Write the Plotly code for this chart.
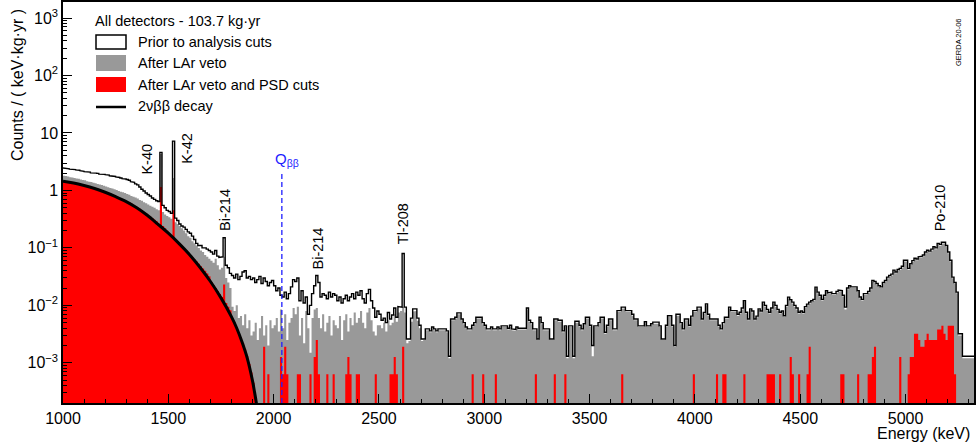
import plotly.graph_objects as go
import math

# ---------------- data (10 keV bins starting at 1000 keV) ----------------
BIN_START = 1000
BIN_WIDTH = 10

prior_cuts = [
    2.45, 2.40, 2.38, 2.35, 2.30, 2.30, 2.28, 2.25, 2.20, 2.15,
    2.12, 2.10, 2.08, 2.02, 2.05, 2.00, 1.98, 1.92, 1.95, 1.90,
    1.88, 1.85, 1.80, 1.78, 1.75, 1.72, 1.68, 1.65, 1.60, 1.58,
    1.55, 1.50, 1.42, 1.38, 1.30, 1.25, 1.15, 1.05, 0.98, 0.90,
    0.85, 0.80, 0.74, 0.70, 0.66, 0.64, 4.60, 0.55, 0.50, 0.45,
    0.43, 0.40, 7.20, 0.33, 0.30, 0.26, 0.24, 0.23, 0.21, 0.19,
    0.18, 0.16, 0.14, 0.12, 0.11, 0.11, 0.10, 0.10, 0.095, 0.09,
    0.085, 0.078, 0.090, 0.072, 0.068, 0.070, 0.150, 0.050, 0.045, 0.036,
    0.033, 0.030, 0.035, 0.028, 0.032, 0.038, 0.040, 0.030, 0.032, 0.028,
    0.030, 0.025, 0.028, 0.032, 0.024, 0.030, 0.026, 0.022, 0.025, 0.027,
    0.022, 0.018, 0.020, 0.015, 0.014, 0.017, 0.013, 0.016, 0.021, 0.028,
    0.026, 0.030, 0.012, 0.018, 0.011, 0.014, 0.007, 0.010, 0.016, 0.022,
    0.033, 0.025, 0.014, 0.016, 0.015, 0.013, 0.017, 0.014, 0.016, 0.015,
    0.012, 0.014, 0.011, 0.013, 0.015, 0.012, 0.014, 0.016, 0.013, 0.017,
    0.015, 0.018, 0.013, 0.011, 0.016, 0.019, 0.012, 0.009, 0.0062, 0.008,
    0.0070, 0.0055, 0.0060, 0.0050, 0.0075, 0.0058, 0.0068, 0.0090, 0.0062, 0.0095,
    0.0093, 0.080, 0.0093, 0.0026, 0.0026, 0.0060, 0.0087, 0.0087, 0.0060, 0.0045,
    0.0026, 0.0026, 0.0039, 0.0039, 0.0036, 0.0042, 0.0039, 0.0036, 0.0039, 0.0039,
    0.0039, 0.0039, 0.0036, 0.0013, 0.0058, 0.0058, 0.0062, 0.0074, 0.0074, 0.0058,
    0.0050, 0.0042, 0.0039, 0.0039, 0.0045, 0.0050, 0.0062, 0.0062, 0.0062, 0.0050,
    0.0045, 0.0039, 0.0039, 0.0042, 0.0039, 0.0039, 0.0042, 0.0039, 0.0044, 0.0044,
    0.0044, 0.0040, 0.0045, 0.0039, 0.0038, 0.0042, 0.0040, 0.0039, 0.0039, 0.0040,
    0.0090, 0.0055, 0.0050, 0.0039, 0.0039, 0.0026, 0.0062, 0.0050, 0.0039, 0.0039,
    0.0039, 0.0026, 0.0026, 0.0058, 0.0058, 0.0055, 0.0055, 0.0036, 0.0044, 0.0013,
    0.0044, 0.0044, 0.0013, 0.0053, 0.0053, 0.0045, 0.0039, 0.0048, 0.0062, 0.0062,
    0.0045, 0.0020, 0.0044, 0.0044, 0.0050, 0.0062, 0.0062, 0.0034, 0.0045, 0.0058,
    0.0058, 0.0039, 0.0039, 0.0081, 0.0081, 0.0093, 0.0093, 0.0081, 0.0081, 0.0081,
    0.0070, 0.0058, 0.0058, 0.0044, 0.0044, 0.0044, 0.0052, 0.0044, 0.0044, 0.0048,
    0.0051, 0.0051, 0.0051, 0.0044, 0.0026, 0.0026, 0.0045, 0.0066, 0.0066, 0.0045,
    0.0020, 0.0070, 0.0070, 0.0050, 0.0039, 0.0058, 0.0058, 0.0045, 0.0065, 0.0081,
    0.0081, 0.0093, 0.0093, 0.0058, 0.0075, 0.0106, 0.0070, 0.0058, 0.0058, 0.0058,
    0.0058, 0.0045, 0.0039, 0.0050, 0.0062, 0.0062, 0.0093, 0.0081, 0.0081, 0.0081,
    0.0070, 0.0076, 0.0090, 0.0120, 0.0076, 0.0058, 0.0087, 0.0080, 0.0058, 0.0065,
    0.0087, 0.0080, 0.0114, 0.0100, 0.0085, 0.0076, 0.0090, 0.0114, 0.0100, 0.0085,
    0.0076, 0.0080, 0.0066, 0.0100, 0.0139, 0.0125, 0.0114, 0.0100, 0.0090, 0.0076,
    0.0080, 0.0076, 0.0095, 0.0105, 0.0114, 0.0120, 0.0127, 0.0208, 0.0170, 0.0150,
    0.0127, 0.0150, 0.0180, 0.0165, 0.0170, 0.0160, 0.0160, 0.0175, 0.0185, 0.0180,
    0.0150, 0.0093, 0.0200, 0.0220, 0.0210, 0.0215, 0.0210, 0.0180, 0.0140, 0.0127,
    0.0160, 0.0160, 0.0175, 0.0200, 0.0270, 0.0260, 0.0240, 0.0220, 0.0210, 0.0250,
    0.0270, 0.0310, 0.0330, 0.0350, 0.0410, 0.0380, 0.0420, 0.0440, 0.0480, 0.0610,
    0.0610, 0.0440, 0.0530, 0.0600, 0.0660, 0.0640, 0.0700, 0.0720, 0.0750, 0.0850,
    0.0910, 0.0880, 0.0950, 0.1050, 0.1000, 0.1200, 0.1150, 0.1250, 0.1250, 0.1100,
    0.0850, 0.0610, 0.0310, 0.0250, 0.0170, 0.0032, 0.0032, 0.0013, 0.0013, 0.0013,
    0.0013, 0.0013, 0.0013,
]

after_lar = [
    1.80, 1.78, 1.75, 1.70, 1.68, 1.65, 1.62, 1.60, 1.55, 1.52,
    1.50, 1.45, 1.42, 1.40, 1.36, 1.33, 1.30, 1.27, 1.24, 1.20,
    1.17, 1.14, 1.10, 1.08, 1.05, 1.02, 0.98, 0.95, 0.93, 0.90,
    0.87, 0.84, 0.80, 0.78, 0.75, 0.72, 0.68, 0.66, 0.62, 0.60,
    0.57, 0.54, 0.52, 0.50, 0.47, 0.45, 4.30, 0.42, 0.38, 0.36,
    0.34, 0.32, 1.65, 0.28, 0.26, 0.24, 0.22, 0.20, 0.18, 0.16,
    0.15, 0.13, 0.12, 0.11, 0.10, 0.09, 0.085, 0.075, 0.070, 0.065,
    0.060, 0.055, 0.065, 0.050, 0.042, 0.045, 0.070, 0.030, 0.025, 0.020,
    0.0095, 0.0080, 0.0100, 0.0060, 0.0065, 0.0045, 0.0070, 0.0040, 0.0055, 0.0030,
    0.0035, 0.0050, 0.0025, 0.0040, 0.0065, 0.0030, 0.0045, 0.0020, 0.0055, 0.0040,
    0.0045, 0.0060, 0.0035, 0.0085, 0.0040, 0.0070, 0.0025, 0.0050, 0.0060, 0.0090,
    0.0070, 0.0095, 0.0030, 0.0060, 0.0022, 0.0080, 0.0040, 0.0015, 0.0060, 0.0085,
    0.0090, 0.0060, 0.0040, 0.0070, 0.0035, 0.0050, 0.0065, 0.0030, 0.0055, 0.0045,
    0.0040, 0.0065, 0.0025, 0.0055, 0.0070, 0.0035, 0.0060, 0.0045, 0.0075, 0.0050,
    0.0060, 0.0080, 0.0050, 0.0040, 0.0075, 0.0090, 0.0055, 0.0035, 0.0030, 0.0045,
    0.0045, 0.0040, 0.0050, 0.0035, 0.0055, 0.0045, 0.0050, 0.0070, 0.0052, 0.0075,
    0.0080, 0.0095, 0.0075, 0.0022, 0.0024, 0.0052, 0.0078, 0.0080, 0.0054, 0.0040,
    0.0024, 0.0025, 0.0037, 0.0037, 0.0034, 0.0040, 0.0037, 0.0034, 0.0037, 0.0037,
    0.0037, 0.0037, 0.0034, 0.0012, 0.0055, 0.0055, 0.0059, 0.0070, 0.0070, 0.0055,
    0.0047, 0.0040, 0.0037, 0.0037, 0.0043, 0.0047, 0.0059, 0.0059, 0.0059, 0.0047,
    0.0043, 0.0037, 0.0037, 0.0040, 0.0037, 0.0037, 0.0040, 0.0037, 0.0042, 0.0042,
    0.0042, 0.0038, 0.0043, 0.0037, 0.0036, 0.0040, 0.0038, 0.0037, 0.0037, 0.0038,
    0.0085, 0.0052, 0.0047, 0.0037, 0.0037, 0.0025, 0.0059, 0.0047, 0.0037, 0.0037,
    0.0037, 0.0025, 0.0025, 0.0055, 0.0055, 0.0052, 0.0052, 0.0034, 0.0042, 0.0012,
    0.0042, 0.0042, 0.0012, 0.0050, 0.0050, 0.0043, 0.0037, 0.0046, 0.0059, 0.0059,
    0.0043, 0.0013, 0.0042, 0.0042, 0.0047, 0.0059, 0.0059, 0.0032, 0.0043, 0.0055,
    0.0055, 0.0037, 0.0037, 0.0077, 0.0077, 0.0088, 0.0088, 0.0077, 0.0077, 0.0077,
    0.0066, 0.0055, 0.0055, 0.0042, 0.0042, 0.0042, 0.0049, 0.0042, 0.0042, 0.0046,
    0.0048, 0.0048, 0.0048, 0.0042, 0.0025, 0.0025, 0.0043, 0.0063, 0.0063, 0.0043,
    0.0019, 0.0066, 0.0066, 0.0047, 0.0037, 0.0055, 0.0055, 0.0043, 0.0062, 0.0077,
    0.0077, 0.0088, 0.0088, 0.0055, 0.0071, 0.0100, 0.0066, 0.0055, 0.0055, 0.0055,
    0.0055, 0.0043, 0.0037, 0.0047, 0.0059, 0.0059, 0.0088, 0.0077, 0.0077, 0.0077,
    0.0066, 0.0072, 0.0085, 0.0114, 0.0072, 0.0055, 0.0083, 0.0076, 0.0055, 0.0062,
    0.0083, 0.0076, 0.0108, 0.0095, 0.0081, 0.0072, 0.0085, 0.0108, 0.0095, 0.0081,
    0.0072, 0.0076, 0.0063, 0.0095, 0.0132, 0.0119, 0.0108, 0.0095, 0.0085, 0.0072,
    0.0076, 0.0072, 0.0090, 0.0100, 0.0108, 0.0114, 0.0121, 0.0198, 0.0162, 0.0142,
    0.0121, 0.0142, 0.0171, 0.0157, 0.0162, 0.0152, 0.0152, 0.0166, 0.0176, 0.0171,
    0.0142, 0.0085, 0.0190, 0.0209, 0.0200, 0.0204, 0.0200, 0.0171, 0.0133, 0.0121,
    0.0152, 0.0152, 0.0166, 0.0190, 0.0256, 0.0247, 0.0228, 0.0209, 0.0200, 0.0238,
    0.0256, 0.0295, 0.0313, 0.0332, 0.0390, 0.0361, 0.0399, 0.0418, 0.0456, 0.0580,
    0.0580, 0.0418, 0.0503, 0.0570, 0.0627, 0.0608, 0.0665, 0.0684, 0.0712, 0.0808,
    0.0865, 0.0836, 0.0902, 0.0998, 0.0950, 0.1140, 0.1092, 0.1188, 0.1188, 0.1045,
    0.0808, 0.0580, 0.0295, 0.0238, 0.0162, 0.0030, 0.0030, 0.0012, 0.0012, 0.0012,
    0.0012, 0.0012, 0.0012,
]

# after LAr veto and PSD: dense part 1000-1990 keV
after_psd_low = [
    1.44, 1.42, 1.41, 1.39, 1.38, 1.36, 1.33, 1.31, 1.28, 1.26,
    1.23, 1.20, 1.17, 1.14, 1.11, 1.08, 1.05, 1.02, 0.99, 0.96,
    0.93, 0.90, 0.87, 0.84, 0.81, 0.78, 0.76, 0.73, 0.70, 0.67,
    0.64, 0.62, 0.59, 0.56, 0.53, 0.50, 0.48, 0.45, 0.42, 0.40,
    0.37, 0.35, 0.33, 0.31, 0.29, 0.26, 1.15, 0.24, 0.22, 0.20,
    0.175, 0.16, 0.45, 0.14, 0.13, 0.12, 0.11, 0.10, 0.092, 0.084,
    0.075, 0.069, 0.063, 0.058, 0.053, 0.048, 0.044, 0.040, 0.036, 0.032,
    0.0255, 0.0225, 0.0200, 0.0178, 0.0158, 0.0140, 0.0230, 0.0110, 0.0095, 0.0082,
    0.0058, 0.0050, 0.0042, 0.0034, 0.0028, 0.0022, 0.0017, 0.0013, 0.00095, 0.00068,
    0.00045, 0.00025, 0, 0, 0, 0.0019, 0, 0.00063, 0, 0,
]
# sparse tail (bin low edge in keV, value)
after_psd_tail_e = [
    2030, 2040, 2050, 2060, 2110, 2120, 2170, 2190, 2200, 2210, 2250, 2280,
    2340, 2350, 2360, 2390, 2400, 2480, 2550, 2560, 2570, 2580, 2610,
    2940, 2990, 3050, 3240, 3330, 3380, 3650, 3990, 4100, 4130, 4140, 4230,
    4340, 4350, 4360, 4370, 4400, 4450, 4460, 4490, 4530, 4540, 4690, 4700,
    4770, 4820, 4830, 4840, 4850, 4970, 5010, 5020, 5030, 5040, 5050, 5060,
    5070, 5080, 5090, 5100, 5110, 5120, 5130, 5140, 5150, 5160, 5170, 5180,
    5190, 5200, 5210, 5220, 5230,
]
after_psd_tail_v = [
    0.00126, 0.00063, 0.0019, 0.00063, 0.00063, 0.00063, 0.00063, 0.00126, 0.0025, 0.00063, 0.00063, 0.00063,
    0.00063, 0.00126, 0.00063, 0.00063, 0.00063, 0.00063, 0.00063, 0.00063, 0.00126, 0.00063, 0.0019,
    0.00063, 0.00063, 0.00063, 0.00063, 0.00063, 0.00063, 0.00063, 0.00063, 0.00063, 0.00063, 0.00063, 0.00063,
    0.00063, 0.00063, 0.00063, 0.00063, 0.00063, 0.00126, 0.00063, 0.00063, 0.00063, 0.0019, 0.00063, 0.00063,
    0.00063, 0.00063, 0.00063, 0.00126, 0.0019, 0.00126, 0.00063, 0.00126, 0.00126, 0.0032, 0.0032, 0.0025,
    0.0019, 0.0019, 0.0025, 0.0032, 0.0025, 0.0025, 0.0025, 0.0025, 0.0038, 0.0038, 0.0044, 0.0032,
    0.0025, 0.0044, 0.0044, 0.0044, 0.00063,
]

# 2nu-beta-beta decay model curve
nu2_energy = [1000, 1050, 1100, 1150, 1200, 1250, 1300, 1350, 1400, 1450, 1500, 1550,
              1600, 1650, 1700, 1750, 1800, 1825, 1850, 1875, 1900, 1910, 1920, 1930]
nu2_value = [1.45, 1.35, 1.22, 1.08, 0.93, 0.78, 0.64, 0.50, 0.37, 0.26, 0.18, 0.12,
             0.077, 0.046, 0.026, 0.0135, 0.0063, 0.0040, 0.0023, 0.0012, 0.00048, 0.00030, 0.00018, 0.0001]

Q_BB = 2039
Q_BB_TOP = 2.0

peak_names = ["K-40", "K-42", "Bi-214", "Bi-214", "Tl-208", "Po-210"]
peak_label_e = [1401, 1591, 1772, 2211, 2615, 5164]
peak_label_y = [3.5, 5.4, 0.45, 0.098, 0.26, 0.49]

legend_labels = ["Prior to analysis cuts", "After LAr veto", "After LAr veto and PSD cuts", "2νββ decay"]
header = "All detectors - 103.7 kg·yr"

y_tick_vals = [1e-3, 1e-2, 1e-1, 1, 10, 100, 1000]
y_tick_text = ["10<sup>−3</sup>", "10<sup>−2</sup>", "10<sup>−1</sup>", "1", "10", "10<sup>2</sup>", "10<sup>3</sup>"]

X_MIN, X_MAX = 1000, 5325
Y_MIN, Y_MAX = 2e-4, 1900

# ---------------- build ----------------
n_bins = len(prior_cuts)
after_psd = [0.0] * n_bins
for i, v in enumerate(after_psd_low):
    after_psd[i] = v
for e, v in zip(after_psd_tail_e, after_psd_tail_v):
    after_psd[(e - BIN_START) // BIN_WIDTH] = v

FLOOR = 1e-6


def step_xy(vals, closed=True):
    xs, ys = [], []
    for i, v in enumerate(vals):
        x0 = BIN_START + i * BIN_WIDTH
        y = v if v > 0 else FLOOR
        xs += [x0, x0 + BIN_WIDTH]
        ys += [y, y]
    if closed:
        xs = [xs[0]] + xs + [xs[-1]]
        ys = [FLOOR] + ys + [FLOOR]
    return xs, ys


FONT = "Liberation Sans, Arial, sans-serif"
fig = go.Figure()

gx, gy = step_xy(after_lar)
fig.add_trace(go.Scatter(x=gx, y=gy, mode="lines", fill="toself",
                         fillcolor="rgb(153,153,153)", line=dict(width=0),
                         hoverinfo="skip", showlegend=False))
rx, ry = step_xy(after_psd)
fig.add_trace(go.Scatter(x=rx, y=ry, mode="lines", fill="toself",
                         fillcolor="rgb(255,0,0)", line=dict(width=0),
                         hoverinfo="skip", showlegend=False))
px_, py_ = step_xy(prior_cuts, closed=False)
fig.add_trace(go.Scatter(x=px_, y=py_, mode="lines",
                         line=dict(color="black", width=1.4),
                         hoverinfo="skip", showlegend=False))
fig.add_trace(go.Scatter(x=nu2_energy, y=nu2_value, mode="lines",
                         line=dict(color="black", width=3, shape="spline"),
                         hoverinfo="skip", showlegend=False))
fig.add_trace(go.Scatter(x=[Q_BB, Q_BB], y=[Y_MIN, Q_BB_TOP], mode="lines",
                         line=dict(color="rgb(30,30,255)", width=1.3, dash="5px,3px"),
                         hoverinfo="skip", showlegend=False))

# plot area in pixels
L, R, T, B = 63, 974, 2, 403


def pxx(x):
    return (x - L) / (R - L)


def pxy(y):
    return (B - y) / (B - T)


annotations = []
for name, e, y in zip(peak_names, peak_label_e, peak_label_y):
    annotations.append(dict(x=e, y=math.log10(y), xref="x", yref="y", text=name,
                            textangle=-90, showarrow=False,
                            font=dict(family=FONT, size=14.5, color="black")))
annotations.append(dict(x=2064, y=0.535, xref="x", yref="y",
                        text="Q<sub>ββ</sub>", showarrow=False,
                        font=dict(family=FONT, size=15, color="rgb(30,30,255)")))

# legend (manual)
annotations.append(dict(x=pxx(93), y=pxy(21), xref="paper", yref="paper", text=header,
                        showarrow=False, xanchor="left", yanchor="middle",
                        font=dict(family=FONT, size=14.5, color="black")))
for lab, yc in zip(legend_labels, [42, 63, 84.5, 106]):
    annotations.append(dict(x=pxx(136), y=pxy(yc), xref="paper", yref="paper", text=lab,
                            showarrow=False, xanchor="left", yanchor="middle",
                            font=dict(family=FONT, size=14.5, color="black")))

shapes = [
    dict(type="rect", xref="paper", yref="paper", x0=pxx(96), x1=pxx(126), y0=pxy(49), y1=pxy(35),
         fillcolor="white", line=dict(color="black", width=1.5)),
    dict(type="rect", xref="paper", yref="paper", x0=pxx(96), x1=pxx(126), y0=pxy(71), y1=pxy(55),
         fillcolor="rgb(153,153,153)", line=dict(width=0)),
    dict(type="rect", xref="paper", yref="paper", x0=pxx(96), x1=pxx(126), y0=pxy(92), y1=pxy(77),
         fillcolor="rgb(255,0,0)", line=dict(width=0)),
    dict(type="line", xref="paper", yref="paper", x0=pxx(96), x1=pxx(126), y0=pxy(107), y1=pxy(107),
         line=dict(color="black", width=2.5)),
]

# axis titles and tag
annotations.append(dict(x=pxx(17), y=pxy(85), xref="paper", yref="paper",
                        text="Counts / ( keV·kg·yr )", textangle=-90, showarrow=False,
                        xanchor="center", yanchor="middle",
                        font=dict(family=FONT, size=16, color="black")))
annotations.append(dict(x=pxx(972), y=pxy(433), xref="paper", yref="paper",
                        text="Energy (keV)", showarrow=False, xanchor="right", yanchor="middle",
                        font=dict(family=FONT, size=16, color="black")))
annotations.append(dict(x=pxx(958), y=pxy(42), xref="paper", yref="paper",
                        text="GERDA 20-06", textangle=-90, showarrow=False,
                        xanchor="center", yanchor="middle",
                        font=dict(family=FONT, size=7.5, color="black")))

minor_y = [k * 10 ** d for d in range(-4, 4) for k in range(2, 10)]

fig.update_layout(
    width=976, height=448,
    margin=dict(l=L, r=976 - R, t=T, b=448 - B, autoexpand=False),
    paper_bgcolor="white", plot_bgcolor="white",
    showlegend=False,
    annotations=annotations, shapes=shapes,
    xaxis=dict(range=[X_MIN, X_MAX], showgrid=False, zeroline=False, automargin=False,
               showline=True, linecolor="black", linewidth=1.5, mirror=True,
               ticks="inside", ticklen=9, tickwidth=1, tickcolor="black",
               tick0=1000, dtick=500,
               minor=dict(ticks="inside", ticklen=4, dtick=100, tickcolor="black", showgrid=False),
               tickfont=dict(family=FONT, size=16, color="black")),
    yaxis=dict(type="log", range=[math.log10(Y_MIN), math.log10(Y_MAX)], automargin=False,
               showgrid=False, zeroline=False,
               showline=True, linecolor="black", linewidth=1.5, mirror=True,
               ticks="inside", ticklen=9, tickwidth=1, tickcolor="black",
               tickmode="array", tickvals=y_tick_vals, ticktext=y_tick_text,
               minor=dict(ticks="inside", ticklen=4, tickmode="array", tickvals=minor_y,
                          tickcolor="black", showgrid=False),
               tickfont=dict(family=FONT, size=16, color="black")),
)

fig.write_html("out.html", config={"displayModeBar": False},
               post_script="document.body.style.margin='0px';document.body.style.overflow='hidden';")
